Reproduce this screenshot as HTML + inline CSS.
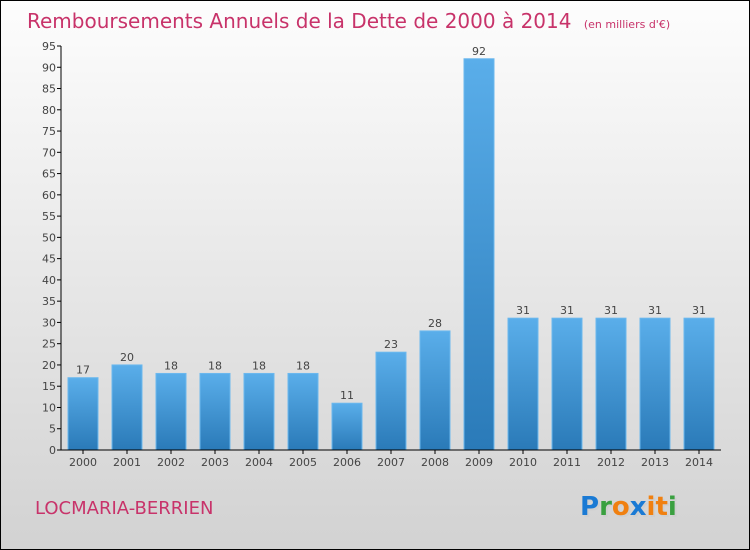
<!DOCTYPE html>
<html><head><meta charset="utf-8"><style>
body{margin:0}
#c{width:750px;height:550px;position:relative;box-sizing:border-box;border:1px solid #000;background:linear-gradient(#fdfdfd,#d2d2d2);font-family:"DejaVu Sans","Liberation Sans",sans-serif;overflow:hidden}
</style></head><body>
<div id="c">
<svg id="s" width="750" height="550" style="position:absolute;left:-1px;top:-1px">
<defs><linearGradient id="g" x1="0" y1="0" x2="0" y2="1"><stop offset="0" stop-color="#5aaeea"/><stop offset="1" stop-color="#2a7ab8"/></linearGradient></defs>
<text x="27" y="28" font-size="20" fill="#c8336a">Remboursements Annuels de la Dette de 2000 à 2014 <tspan font-size="11" dx="6">(en milliers d'€)</tspan></text>
<text x="35" y="514" font-size="18" fill="#c8336a">LOCMARIA-BERRIEN</text>
<g font-size="26" font-weight="bold" font-family="'DejaVu Sans',sans-serif">
<text x="582" y="517" fill="#ccc" opacity="0.6">Proxiti</text>
<text x="580" y="515"><tspan fill="#1a7ad4">P</tspan><tspan fill="#3aa040">r</tspan><tspan fill="#f08010">o</tspan><tspan fill="#1a7ad4">x</tspan><tspan fill="#f08010">i</tspan><tspan fill="#f08010">t</tspan><tspan fill="#3aa040">i</tspan></text>
</g>
</svg>
</div>
<script>
const categories=["2000","2001","2002","2003","2004","2005","2006","2007","2008","2009","2010","2011","2012","2013","2014"];
const values=[17,20,18,18,18,18,11,23,28,92,31,31,31,31,31];
const yTicks=[0,5,10,15,20,25,30,35,40,45,50,55,60,65,70,75,80,85,90,95];
const NS="http://www.w3.org/2000/svg",s=document.getElementById('s');
const y0=450,yTop=46,yMax=95,x0=61,x1=721;
const y=v=>y0-(v/yMax)*(y0-yTop);
const step=(x1-x0)/categories.length;
const xc=i=>x0+step*(i+0.5);
function mk(t,a,txt){const e=document.createElementNS(NS,t);for(const k in a)e.setAttribute(k,a[k]);if(txt!=null)e.textContent=txt;s.appendChild(e);return e;}
yTicks.forEach(v=>{
const l=mk('line',{x1:x0-4,x2:x0,y1:y(v),y2:y(v),stroke:'#000'});


const t=mk('text',{x:x0-5,y:y(v)+4,'text-anchor':'end','font-size':11,fill:'#444'},v);


});
values.forEach((v,i)=>{
const r=mk('rect',{x:xc(i)-15,y:y(v),width:30,height:y0-y(v),fill:'url(#g)',stroke:'#6bb8ee','stroke-width':1});


const t=mk('text',{x:xc(i),y:y(v)-4,'text-anchor':'middle','font-size':11,fill:'#444'},v);


const c=mk('text',{x:xc(i),y:466,'text-anchor':'middle','font-size':11,fill:'#444'},categories[i]);


const tk=mk('line',{x1:xc(i),x2:xc(i),y1:y0,y2:y0+4,stroke:'#000'});


});
const ya=mk('line',{x1:x0,x2:x0,y1:yTop,y2:y0,stroke:'#000'});


const xa=mk('line',{x1:x0,x2:x1,y1:y0,y2:y0,stroke:'#000'});


</script>
</body></html>
